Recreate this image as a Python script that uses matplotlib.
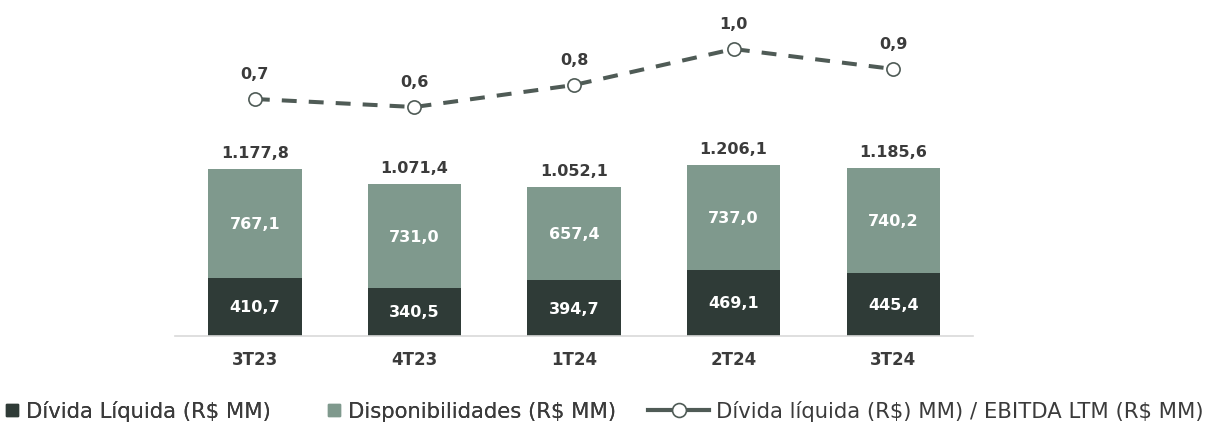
import numpy as np
import matplotlib.pyplot as plt
from matplotlib.lines import Line2D

# data
periodos = ['3T23', '4T23', '1T24', '2T24', '3T24']
divida_liquida = [410.7, 340.5, 394.7, 469.1, 445.4]
disponibilidades = [767.1, 731.0, 657.4, 737.0, 740.2]
totais = [1177.8, 1071.4, 1052.1, 1206.1, 1185.6]
# ratio as positioned on the chart, and the labels it shows
alavancagem = [0.75, 0.71, 0.82, 1.0, 0.90]
alavancagem_txt = ['0,7', '0,6', '0,8', '1,0', '0,9']

cor_escura = '#2f3b37'
cor_clara = '#7f998d'
cor_linha = '#4f5b56'
cor_texto = '#3b3b3b'


def fmt(v):
    s = '{:,.1f}'.format(v)
    return s.replace(',', 'X').replace('.', ',').replace('X', '.')


fig = plt.figure(figsize=(12.19, 4.39), dpi=100)
ax = fig.add_axes([0.1436, 0.2323, 0.6546, 0.7677])
x = np.arange(len(periodos))
w = 0.585

ax.bar(x, divida_liquida, w, color=cor_escura)
ax.bar(x, disponibilidades, w, bottom=divida_liquida, color=cor_clara)
ax.set_ylim(0, 2382)
ax.set_xlim(-0.5, len(periodos) - 0.5)

for i in range(len(x)):
    ax.text(x[i], divida_liquida[i] / 2, fmt(divida_liquida[i]), ha='center', va='center',
            color='white', fontsize=11.5, fontweight='bold')
    ax.text(x[i], divida_liquida[i] + disponibilidades[i] / 2, fmt(disponibilidades[i]),
            ha='center', va='center', color='white', fontsize=11.5, fontweight='bold')
    ax.annotate(fmt(totais[i]), (x[i], totais[i]), xytext=(0, 17), textcoords='offset pixels',
                ha='center', va='center', color=cor_texto, fontsize=11.5, fontweight='bold')

ax.set_xticks(x)
ax.set_xticklabels(periodos, fontsize=12, fontweight='bold', color=cor_texto)
ax.tick_params(axis='x', length=0, pad=10)
ax.set_yticks([])
for s in ['top', 'left', 'right']:
    ax.spines[s].set_visible(False)
ax.spines['bottom'].set_color('#d9d9d9')
ax.spines['bottom'].set_linewidth(1.2)

# line on secondary axis: dashed line, markers drawn separately
ax2 = ax.twinx()
ax2.plot(x, alavancagem, color=cor_linha, lw=2.9, ls='--', dashes=[3.7, 3.0], zorder=2)
ax2.plot(x, alavancagem, ls='none', marker='o', markersize=9.5, markerfacecolor='white',
         markeredgecolor=cor_linha, markeredgewidth=1.2, zorder=3)
ax2.set_ylim(-0.435, 1.25)
ax2.set_yticks([])
for s in ['top', 'left', 'right', 'bottom']:
    ax2.spines[s].set_visible(False)
for i in range(len(x)):
    ax2.annotate(alavancagem_txt[i], (x[i], alavancagem[i]), xytext=(0, 26),
                 textcoords='offset pixels', ha='center', va='center', color=cor_texto,
                 fontsize=11.5, fontweight='bold')

# legend
fonte_leg = {'family': 'DejaVu Sans', 'size': 15.2}
h1 = Line2D([], [], ls='', marker='s', markersize=8, color=cor_escura)
h2 = Line2D([], [], ls='', marker='s', markersize=8, color=cor_clara)
leg1 = fig.legend([h1, h2], ['Dívida Líquida (R\\$ MM)', 'Disponibilidades (R\\$ MM)'],
                  loc='center left', bbox_to_anchor=(0.005, 0.062), ncol=2, frameon=False,
                  borderpad=0, borderaxespad=0, handlelength=0.6, handletextpad=0.35,
                  columnspacing=2.7, prop=fonte_leg, labelcolor=cor_texto)
h3 = Line2D([], [], color=cor_linha, lw=3, marker='o', markersize=10,
            markerfacecolor='white', markeredgecolor=cor_linha, markeredgewidth=1.2)
fig.legend([h3], ['Dívida líquida (R\\$) MM) / EBITDA LTM (R\\$ MM)'], loc='center left',
           bbox_to_anchor=(0.5316, 0.062), frameon=False, borderpad=0, borderaxespad=0,
           handlelength=2.9, handletextpad=0.3, prop=fonte_leg, labelcolor=cor_texto)
fig.add_artist(leg1)

plt.savefig('out.png')
